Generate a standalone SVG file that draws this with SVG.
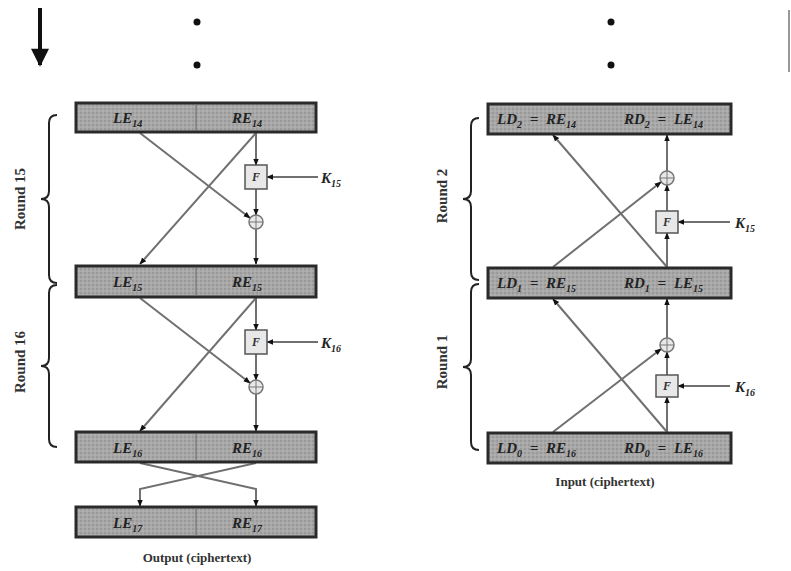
<svg xmlns="http://www.w3.org/2000/svg" width="791" height="571" viewBox="0 0 791 571">
<defs>
<pattern id="dots" width="4" height="4" patternUnits="userSpaceOnUse">
<rect width="4" height="4" fill="#a8a8a8"/>
<circle cx="1" cy="1" r="0.7" fill="#808080"/>
<circle cx="3" cy="3" r="0.6" fill="#c8c8c8"/>
</pattern>
<marker id="ah" viewBox="0 0 10 10" refX="9" refY="5" markerWidth="7" markerHeight="7" markerUnits="userSpaceOnUse" orient="auto">
<path d="M0,1 L10,5 L0,9 z" fill="#111"/>
</marker>
<marker id="big" viewBox="0 0 10 10" refX="9" refY="5" markerWidth="24" markerHeight="18" markerUnits="userSpaceOnUse" orient="auto">
<path d="M0,0 L10,5 L0,10 z" fill="#111"/>
</marker>
</defs>
<style>
.box{fill:url(#dots);stroke:#2a2a2a;stroke-width:3}
.div{stroke:#6a6a6a;stroke-width:1}
.lbl{font-family:"Liberation Serif",serif;font-style:italic;font-weight:bold;font-size:15px;fill:#222}
.rl{font-size:15px;word-spacing:4px}
.sub{font-size:10px}
.cap{font-family:"Liberation Serif",serif;font-weight:bold;font-size:13px;fill:#333}
.rnd{font-family:"Liberation Serif",serif;font-weight:bold;font-size:15px;fill:#333}
.ar{stroke:#707070;stroke-width:2;fill:none;marker-end:url(#ah)}
.fbox{fill:#e8e8e8;stroke:#555;stroke-width:1.5}
.xor{fill:#e8e8e8;stroke:#777;stroke-width:1.5}
.brace{stroke:#222;stroke-width:2;fill:none}
.ftxt{font-family:"Liberation Serif",serif;font-style:italic;font-weight:bold;font-size:12px;fill:#333}
</style>

<g id="top">
<line x1="40" y1="8" x2="40" y2="65" stroke="#111" stroke-width="4" marker-end="url(#big)"/>
<circle cx="197" cy="22" r="3.5" fill="#111"/>
<circle cx="197" cy="65" r="3.5" fill="#111"/>
<circle cx="611" cy="22" r="3.5" fill="#111"/>
<circle cx="611" cy="65" r="3.5" fill="#111"/>
<line x1="789" y1="10" x2="789" y2="72" stroke="#777" stroke-width="1.5"/>
</g>

<g id="connectors">
<line class="ar" x1="256" y1="133" x2="256" y2="165"/>
<line class="ar" x1="256" y1="189" x2="256" y2="215"/>
<line class="ar" x1="256" y1="229" x2="256" y2="264"/>
<line class="ar" x1="140" y1="133" x2="250" y2="218"/>
<line class="ar" x1="256" y1="133" x2="140" y2="264"/>
<line class="ar" x1="318" y1="177" x2="267" y2="177"/>
<line class="ar" x1="256" y1="298" x2="256" y2="330"/>
<line class="ar" x1="256" y1="354" x2="256" y2="380"/>
<line class="ar" x1="256" y1="394" x2="256" y2="431"/>
<line class="ar" x1="140" y1="298" x2="250" y2="383"/>
<line class="ar" x1="256" y1="298" x2="140" y2="431"/>
<line class="ar" x1="318" y1="342" x2="267" y2="342"/>
<polyline class="ar" points="140,463 256,489 256,506"/>
<polyline class="ar" points="256,463 140,489 140,506"/>
<line class="ar" x1="667" y1="432" x2="667" y2="397"/>
<line class="ar" x1="667" y1="375" x2="667" y2="352"/>
<line class="ar" x1="667" y1="338" x2="667" y2="299"/>
<line class="ar" x1="553" y1="432" x2="661" y2="349"/>
<line class="ar" x1="667" y1="432" x2="553" y2="299"/>
<line class="ar" x1="730" y1="386" x2="678" y2="386"/>
<line class="ar" x1="667" y1="267" x2="667" y2="233"/>
<line class="ar" x1="667" y1="211" x2="667" y2="185"/>
<line class="ar" x1="667" y1="171" x2="667" y2="135"/>
<line class="ar" x1="553" y1="267" x2="661" y2="182"/>
<line class="ar" x1="667" y1="267" x2="553" y2="135"/>
<line class="ar" x1="730" y1="222" x2="678" y2="222"/>
</g>

<g id="L14">
<rect class="box" x="76" y="103" width="240" height="29"/>
<line class="div" x1="196" y1="104" x2="196" y2="131"/>
<text class="lbl" x="113" y="123">LE<tspan class="sub" dy="4">14</tspan></text>
<text class="lbl" x="232" y="123">RE<tspan class="sub" dy="4">14</tspan></text>
</g>
<g id="L15">
<rect class="box" x="76" y="266" width="240" height="31"/>
<line class="div" x1="196" y1="267" x2="196" y2="296"/>
<text class="lbl" x="113" y="287">LE<tspan class="sub" dy="4">15</tspan></text>
<text class="lbl" x="232" y="287">RE<tspan class="sub" dy="4">15</tspan></text>
</g>
<g id="L16">
<rect class="box" x="76" y="432" width="240" height="30"/>
<line class="div" x1="196" y1="433" x2="196" y2="461"/>
<text class="lbl" x="113" y="453">LE<tspan class="sub" dy="4">16</tspan></text>
<text class="lbl" x="232" y="453">RE<tspan class="sub" dy="4">16</tspan></text>
</g>
<g id="L17">
<rect class="box" x="76" y="507" width="240" height="30"/>
<line class="div" x1="196" y1="508" x2="196" y2="536"/>
<text class="lbl" x="113" y="528">LE<tspan class="sub" dy="4">17</tspan></text>
<text class="lbl" x="232" y="528">RE<tspan class="sub" dy="4">17</tspan></text>
</g>
<g id="outcap"><text class="cap" x="197" y="562" text-anchor="middle">Output (ciphertext)</text></g>

<g id="F15L"><rect class="fbox" x="245" y="165" width="22" height="24"/><text class="ftxt" x="256" y="181" text-anchor="middle">F</text></g>
<g id="X15L"><circle class="xor" cx="256" cy="222" r="7"/><path d="M249,222 H263 M256,215 V229" stroke="#777" stroke-width="1"/></g>
<g id="K15L"><text class="lbl" x="321" y="183">K<tspan class="sub" dy="4">15</tspan></text></g>
<g id="F16L"><rect class="fbox" x="245" y="330" width="22" height="24"/><text class="ftxt" x="256" y="346" text-anchor="middle">F</text></g>
<g id="X16L"><circle class="xor" cx="256" cy="387" r="7"/><path d="M249,387 H263 M256,380 V394" stroke="#777" stroke-width="1"/></g>
<g id="K16L"><text class="lbl" x="321" y="348">K<tspan class="sub" dy="4">16</tspan></text></g>

<g id="R2">
<rect class="box" x="488" y="104" width="243" height="30"/>
<text class="lbl rl" x="497" y="124">LD<tspan class="sub" dy="4">2</tspan><tspan dy="-4"> = RE</tspan><tspan class="sub" dy="4">14</tspan></text>
<text class="lbl rl" x="624" y="124">RD<tspan class="sub" dy="4">2</tspan><tspan dy="-4"> = LE</tspan><tspan class="sub" dy="4">14</tspan></text>
</g>
<g id="R1">
<rect class="box" x="488" y="268" width="243" height="30"/>
<text class="lbl rl" x="497" y="288">LD<tspan class="sub" dy="4">1</tspan><tspan dy="-4"> = RE</tspan><tspan class="sub" dy="4">15</tspan></text>
<text class="lbl rl" x="624" y="288">RD<tspan class="sub" dy="4">1</tspan><tspan dy="-4"> = LE</tspan><tspan class="sub" dy="4">15</tspan></text>
</g>
<g id="R0">
<rect class="box" x="488" y="433" width="243" height="30"/>
<text class="lbl rl" x="497" y="453">LD<tspan class="sub" dy="4">0</tspan><tspan dy="-4"> = RE</tspan><tspan class="sub" dy="4">16</tspan></text>
<text class="lbl rl" x="624" y="453">RD<tspan class="sub" dy="4">0</tspan><tspan dy="-4"> = LE</tspan><tspan class="sub" dy="4">16</tspan></text>
</g>
<g id="incap"><text class="cap" x="605" y="486" text-anchor="middle">Input (ciphertext)</text></g>

<g id="F15R"><rect class="fbox" x="656" y="211" width="22" height="22"/><text class="ftxt" x="667" y="226" text-anchor="middle">F</text></g>
<g id="X15R"><circle class="xor" cx="667" cy="178" r="7"/><path d="M660,178 H674 M667,171 V185" stroke="#777" stroke-width="1"/></g>
<g id="K15R"><text class="lbl" x="735" y="228">K<tspan class="sub" dy="4">15</tspan></text></g>
<g id="F16R"><rect class="fbox" x="656" y="375" width="22" height="22"/><text class="ftxt" x="667" y="390" text-anchor="middle">F</text></g>
<g id="X16R"><circle class="xor" cx="667" cy="345" r="7"/><path d="M660,345 H674 M667,338 V352" stroke="#777" stroke-width="1"/></g>
<g id="K16R"><text class="lbl" x="735" y="392">K<tspan class="sub" dy="4">16</tspan></text></g>

<g id="round15">
<path class="brace" d="M57,115 Q49,115 49,123 L49,191 Q49,199 41,199 Q49,199 49,207 L49,275 Q49,283 57,283"/>
<text class="rnd" transform="translate(25,199) rotate(-90)" text-anchor="middle">Round 15</text>
</g>
<g id="round16">
<path class="brace" d="M57,285 Q49,285 49,293 L49,358 Q49,366 41,366 Q49,366 49,374 L49,439 Q49,447 57,447"/>
<text class="rnd" transform="translate(25,362) rotate(-90)" text-anchor="middle">Round 16</text>
</g>
<g id="round2">
<path class="brace" d="M479,118 Q471,118 471,126 L471,191 Q471,199 463,199 Q471,199 471,207 L471,272 Q471,280 479,280"/>
<text class="rnd" transform="translate(447,196) rotate(-90)" text-anchor="middle">Round 2</text>
</g>
<g id="round1">
<path class="brace" d="M479,284 Q471,284 471,292 L471,359 Q471,367 463,367 Q471,367 471,375 L471,442 Q471,450 479,450"/>
<text class="rnd" transform="translate(447,362) rotate(-90)" text-anchor="middle">Round 1</text>
</g>
</svg>
